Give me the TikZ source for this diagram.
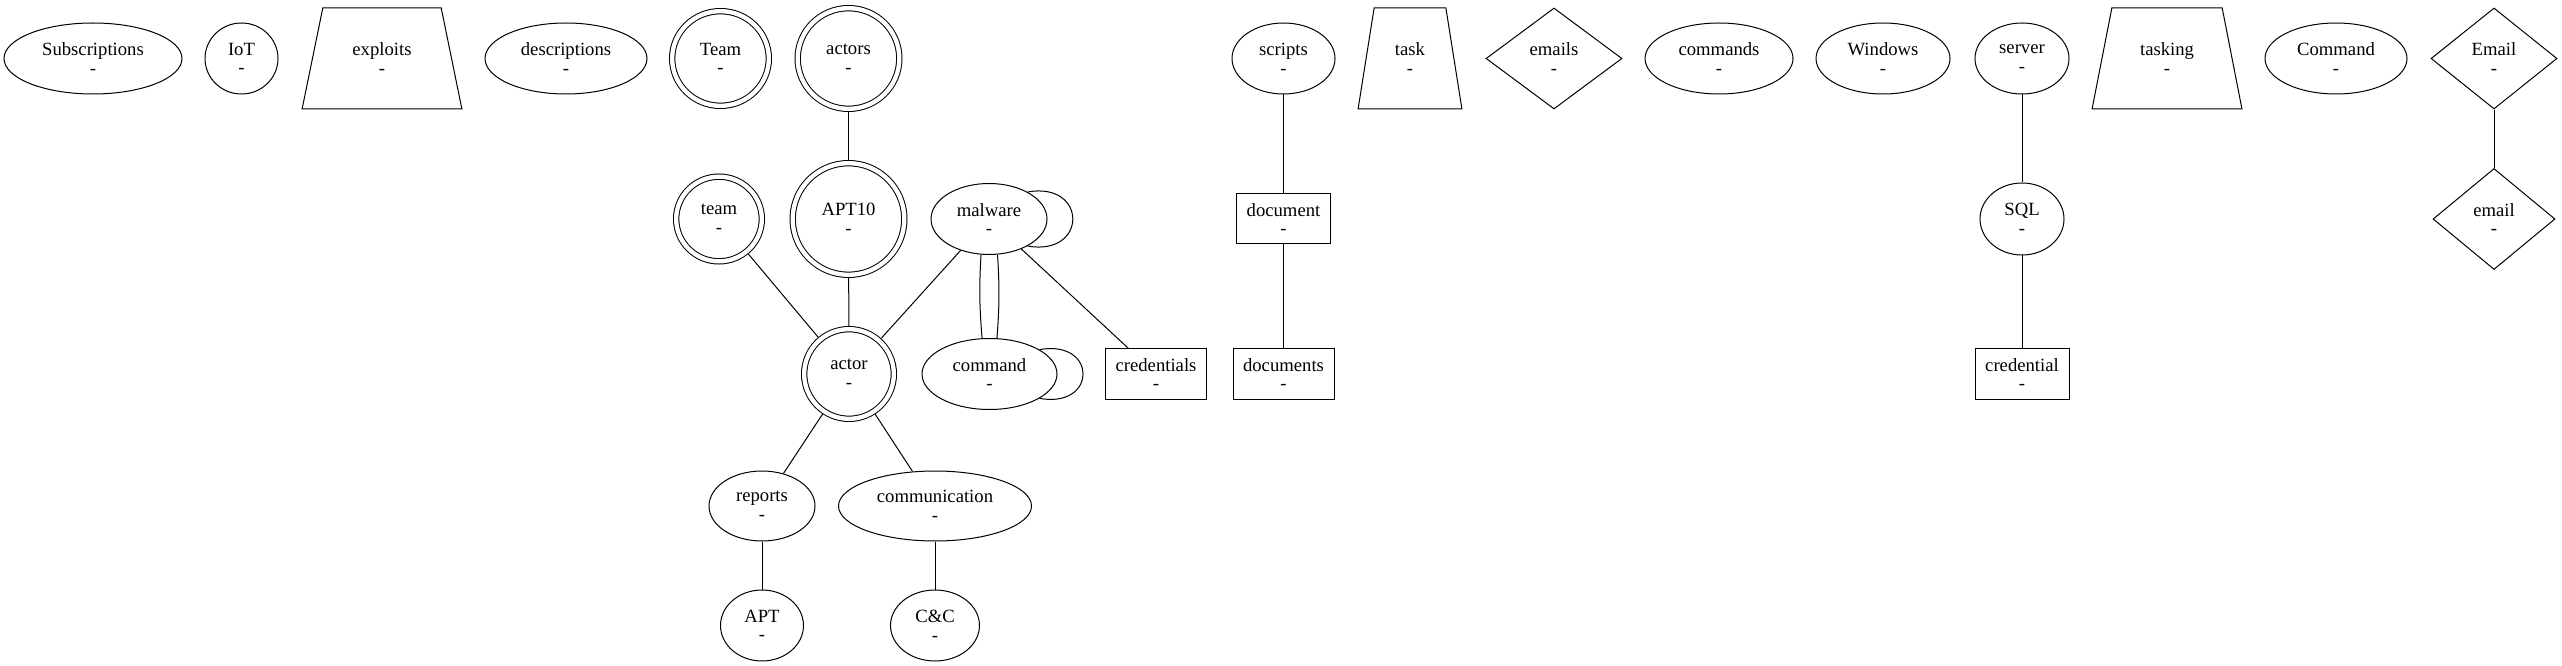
\documentclass[tikz,border=0pt]{standalone}
\usepackage{fontspec}
\setmainfont{Liberation Serif}
\usetikzlibrary{positioning, shapes.geometric, calc}
\tikzset{
        my-ellipse/.style={
            ellipse, draw, inner sep=0pt, minimum height=53.25pt
        },
        my-double/.style={
            ellipse, draw, double, double distance=3.25pt, inner sep=0pt, outer sep=2.375pt
        },
        my-box/.style={
            rectangle, draw, inner sep=0pt, minimum height=37.5pt
        },
        my-diamond/.style={
            diamond, draw, inner sep=0pt, minimum height=75.75pt
        },
        my-trap/.style={
            trapezium, trapezium stretches=true, draw, inner sep=0pt, minimum height=75.75pt
        },
}
\begin{document}
\begin{tikzpicture}[x=.75pt, y=.75pt, line width=.75pt,
        every node/.style={font=\fontsize{14}{14}\selectfont, align=center}]

        \fill [white] (0,0) rectangle (2562,-666);
        \useasboundingbox (0,0) rectangle (2562,-666);

        %DRAW NODES (top row, left to right)
        \node [my-ellipse, minimum width=133.5pt]            (SUBS)      at (93,-58.5)     {Subscriptions\\-};
        \node [my-ellipse, minimum width=54.75pt]            (IOT)       at (241.5,-58.5)  {IoT\\-};
        \node [my-trap, minimum width=120pt, trapezium angle=71.9] (EXPLOITS) at (382,-58.5) {exploits\\-};
        \node [my-ellipse, minimum width=121.5pt]            (DESCR)     at (566,-58.5)    {descriptions\\-};
        \node [my-double, minimum width=72.5pt, minimum height=71pt]     (TEAM-U)  at (720.5,-58.5) {Team\\-};
        \node [my-double, minimum width=76.25pt, minimum height=75.5pt]  (ACTORS)  at (848.5,-58.5) {actors\\-};
        \node [my-ellipse, minimum width=77.25pt]            (SCRIPTS)   at (1283.5,-58.5) {scripts\\-};
        \node [my-trap, minimum width=78pt, trapezium angle=78]    (TASK)     at (1410,-58.5)  {task\\-};
        \node [my-diamond, minimum width=102pt]              (EMAILS)    at (1554,-58.5)   {emails\\-};
        \node [my-ellipse, minimum width=111pt]              (COMMANDS)  at (1719,-58.5)   {commands\\-};
        \node [my-ellipse, minimum width=100.5pt]            (WINDOWS)   at (1883,-58.5)   {Windows\\-};
        \node [my-ellipse, minimum width=70.5pt]             (SERVER)    at (2022,-58.5)   {server\\-};
        \node [my-trap, minimum width=112.5pt, trapezium angle=73] (TASKING)  at (2167,-58.5)  {tasking\\-};
        \node [my-ellipse, minimum width=106.5pt]            (COMMAND-U) at (2336,-58.5)   {Command\\-};
        \node [my-diamond, minimum width=94.5pt]             (EMAIL-U)   at (2494,-58.5)   {Email\\-};

        %DRAW NODES (second row, mostly under their parents)
        \node [my-double, minimum width=64.25pt, minimum height=63.5pt]  (TEAM-L)  at (719,-219)   {team\\-};
        \node [my-double, minimum width=83.75pt, minimum height=83.75pt] (APT10)   at (ACTORS |- TEAM-L) {APT10\\-};
        \node [my-ellipse, minimum width=87pt]               (MALWARE)   at (989,-219)     {malware\\-};
        \node [my-box, minimum width=70.5pt]                 (DOCUMENT)  at (SCRIPTS |- MALWARE) {document\\-};
        \node [my-ellipse, minimum width=63pt, minimum height=54pt] (SQL) at (SERVER |- MALWARE) {SQL\\-};
        \node [my-diamond, minimum width=91.5pt]             (EMAIL-L)   at (EMAIL-U |- MALWARE) {email\\-};

        %DRAW NODES (third row)
        \node [my-double, minimum width=67.25pt, minimum height=67.25pt] (ACTOR)   at (849,-374)   {actor\\-};
        \node [my-ellipse, minimum width=101.25pt]           (COMMAND-L) at (989.5,-374)   {command\\-};
        \node [my-box, minimum width=75.75pt]                (CREDS)     at (1156,-374)    {credentials\\-};
        \node [my-box, minimum width=75.75pt]                (DOCUMENTS) at (DOCUMENT |- ACTOR) {documents\\-};
        \node [my-box, minimum width=70.5pt]                 (CRED)      at (SERVER |- ACTOR)   {credential\\-};

        %DRAW NODES (bottom two rows)
        \node [my-ellipse, minimum width=79.5pt, minimum height=52.5pt]  (REPORTS) at (762,-506) {reports\\-};
        \node [my-ellipse, minimum width=144.75pt, minimum height=52.5pt] (COMM)   at (935,-506) {communication\\-};
        \node [my-ellipse, minimum width=62.25pt]            (APT)       at (762,-625.5)   {APT\\-};
        \node [my-ellipse, minimum width=66.75pt]            (CANDC)     at (935,-625.5)   {C\&C\\-};

        % CONNECT THE ACTOR CLUSTER
        \draw (ACTORS) -- (APT10);
        \draw (APT10) -- (ACTOR);
        \draw (TEAM-L) -- (ACTOR);
        \draw (MALWARE) -- (ACTOR);
        \draw (MALWARE) -- (CREDS);
        \draw ([xshift=-6pt]MALWARE.south) to [bend right=4] ([xshift=-5.6pt]COMMAND-L.north);
        \draw ([xshift=6.4pt]MALWARE.south) to [bend left=4] ([xshift=5.6pt]COMMAND-L.north);
        \draw (MALWARE.35) to [out=10, in=-10, looseness=2.9] (MALWARE.-35);
        \draw (COMMAND-L.26) to [out=10, in=-10, looseness=3.1] (COMMAND-L.-26);
        \draw (ACTOR) -- (REPORTS);
        \draw (ACTOR) -- (COMM);
        \draw (REPORTS) -- (APT);
        \draw (COMM) -- (CANDC);

        % CONNECT THE SMALL CHAINS
        \draw (SCRIPTS) -- (DOCUMENT);
        \draw (DOCUMENT) -- (DOCUMENTS);
        \draw (SERVER) -- (SQL);
        \draw (SQL) -- (CRED);
        \draw (EMAIL-U) -- (EMAIL-L);

\end{tikzpicture}
\end{document}
